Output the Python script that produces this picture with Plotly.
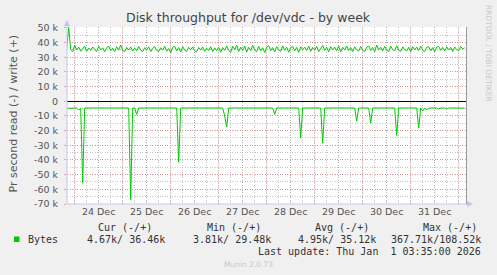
import pandas as pd
import plotly.graph_objects as go

# ---------------- data (hourly samples) ----------------
start_time = "2025-12-23 20:00"
n_points = 200

write_bytes = [
    36300, 50300, 35200, 33800, 38200, 35000, 36900, 34100, 35800, 37600, 34000, 36300, 34700, 37000, 35200, 33900, 37300, 35000, 36400, 33800,
    36600, 37500, 34500, 36200, 33900, 37100, 34800, 38400, 34600, 33800, 36700, 34900, 37000, 34200, 36300, 34400, 37300, 34800, 33700, 36500,
    35000, 37000, 33900, 36100, 37200, 34600, 33900, 36500, 34800, 37400, 34100, 35900, 33000, 36700, 37500, 34300, 36600, 33600, 37200, 34800,
    33900, 36800, 35000, 37100, 34300, 33700, 36600, 34900, 37000, 34000, 36200, 34500, 37200, 33800, 36400, 34400, 36700, 33400, 36600, 34700,
    37800, 34600, 33300, 37500, 35000, 38200, 33900, 36900, 34700, 37600, 33500, 36800, 34500, 38000, 34900, 33700, 37400, 34400, 36500, 33200,
    36800, 37900, 34500, 36600, 33600, 37200, 34900, 33900, 37700, 34700, 36800, 33400, 36600, 37300, 34300, 36700, 33300, 37100, 35000, 36900,
    34700, 37600, 33900, 36700, 34900, 37400, 33800, 36400, 38000, 34600, 36800, 33700, 37200, 35000, 36900, 34300, 37500, 33600, 36800, 34900,
    37700, 34600, 36600, 33800, 37100, 35100, 34200, 37300, 34800, 33700, 36900, 37500, 34600, 36700, 33900, 38300, 35000, 36800, 34300, 37400,
    34800, 33800, 37600, 35100, 34500, 37800, 34900, 33900, 37100, 35200, 34300, 36800, 33700, 37300, 35000, 36900, 34500, 37500, 34800, 33900,
    36800, 37200, 34300, 36600, 33800, 36900, 37400, 34700, 36700, 34300, 37100, 34900, 36800, 33900, 37000, 35200, 34500, 37300, 35600, 36460,
]

read_bytes = [
    -4800, -4700, -4700, -4600, -4600, -4600, -6000, -4600, -55800, -4600, -4600, -4600, -4600, -4600, -4600, -4600, -4600, -4600, -4600, -4600,
    -4600, -4600, -4600, -4600, -4600, -4600, -4600, -4600, -4600, -4600, -4600, -4600, -67000, -4600, -4600, -9000, -4600, -4600, -4600, -4600,
    -4600, -4600, -4600, -4600, -4600, -4600, -4600, -4600, -4600, -4600, -4600, -4600, -4600, -4600, -4600, -4600, -41600, -4600, -4600, -4600,
    -4600, -4600, -4600, -4600, -4600, -4600, -4600, -4600, -4600, -4600, -4600, -4600, -4600, -4600, -4600, -4600, -4600, -4600, -4600, -10000,
    -17600, -4600, -4600, -4600, -4600, -4600, -4600, -4600, -4600, -4600, -4600, -4600, -4600, -4600, -4600, -4600, -4600, -4600, -4600, -4600,
    -4600, -4600, -4600, -4600, -9000, -4600, -4600, -4600, -4600, -4600, -4600, -4600, -4600, -4600, -4600, -4600, -4600, -25000, -4600, -4600,
    -4600, -4600, -4600, -4600, -4600, -4600, -4600, -4600, -28600, -4600, -4600, -4600, -4600, -4600, -4600, -4600, -4600, -4600, -4600, -4600,
    -4600, -4600, -4600, -4600, -4600, -13500, -4600, -4600, -4600, -4600, -4600, -4600, -15000, -4600, -4600, -4600, -4600, -4600, -4600, -4600,
    -4600, -4600, -4600, -4600, -4600, -23300, -4600, -4600, -4600, -4600, -4600, -4600, -4600, -4600, -4600, -4600, -18300, -4600, -6600, -4600,
    -6000, -4600, -4600, -4600, -4600, -4600, -5200, -4600, -4600, -4600, -5200, -4600, -4600, -4600, -4600, -4600, -4600, -4600, -4600, -4670,
]

day_labels = ["24 Dec", "25 Dec", "26 Dec", "27 Dec", "28 Dec", "29 Dec", "30 Dec", "31 Dec"]
day_noons = ["2025-12-24 12:00", "2025-12-25 12:00", "2025-12-26 12:00", "2025-12-27 12:00",
             "2025-12-28 12:00", "2025-12-29 12:00", "2025-12-30 12:00", "2025-12-31 12:00"]
midnights = ["2025-12-24", "2025-12-25", "2025-12-26", "2025-12-27", "2025-12-28",
             "2025-12-29", "2025-12-30", "2025-12-31", "2026-01-01"]
x_range = ["2025-12-23 20:09", "2026-01-01 03:39"]

y_tick_vals = [-70000, -60000, -50000, -40000, -30000, -20000, -10000, 0, 10000, 20000, 30000, 40000, 50000]
y_tick_text = ["-70 k", "-60 k", "-50 k", "-40 k", "-30 k", "-20 k", "-10 k", "0", "10 k", "20 k", "30 k", "40 k", "50 k"]
y_range = [-70000, 50600]

legend_name = "Bytes"
col_headers = ["Cur (-/+)", "Min (-/+)", "Avg (-/+)", "Max (-/+)"]
col_values = ["4.67k/ 36.46k", "3.81k/ 29.48k", "4.95k/ 35.12k", "367.71k/108.52k"]
last_update = "Last update: Thu Jan\u00a0\u00a01 03:35:00 2026"

title_text = "Disk throughput for /dev/vdc - by week"
y_title = "Pr second read (-) / write (+)"

# ---------------- figure ----------------
times = pd.date_range(start_time, periods=n_points, freq="h")
GREEN = "#00CC00"
RED_GRID = "rgba(230,110,110,0.6)"
GRAY_GRID = "rgba(160,160,160,0.6)"
DOT = "1px,1.5px"

fig = go.Figure()
fig.add_trace(go.Scatter(x=times, y=write_bytes, mode="lines",
                         line=dict(color=GREEN, width=1), hoverinfo="skip", showlegend=False))
fig.add_trace(go.Scatter(x=times, y=read_bytes, mode="lines",
                         line=dict(color=GREEN, width=1), hoverinfo="skip", showlegend=False))

L, R, T, B = 67, 466, 27, 204
W, H = R - L, B - T


def px(x):
    return (x - L) / W


def py(y):
    return (B - y) / H


shapes = []
for m in midnights:
    shapes.append(dict(type="line", xref="x", yref="paper", x0=m, x1=m, y0=0, y1=1,
                       line=dict(color=RED_GRID, width=1, dash=DOT), layer="below"))
AX = "#C4C4F2"
shapes += [
    dict(type="line", xref="paper", yref="paper", x0=0, x1=0, y0=0, y1=py(25),
         line=dict(color=AX, width=1)),
    dict(type="path", xref="paper", yref="paper",
         path=f"M {px(67)},{py(20)} L {px(64)},{py(26)} L {px(70)},{py(26)} Z",
         fillcolor=AX, line=dict(color=AX, width=0)),
    dict(type="line", xref="paper", yref="paper", x0=0, x1=px(468), y0=0, y1=0,
         line=dict(color=AX, width=1)),
    dict(type="path", xref="paper", yref="paper",
         path=f"M {px(473)},{py(204)} L {px(467)},{py(201)} L {px(467)},{py(207)} Z",
         fillcolor=AX, line=dict(color=AX, width=0)),
    dict(type="line", xref="paper", yref="paper", x0=px(466.5), x1=px(466.5), y0=0, y1=1,
         line=dict(color="#999999", width=1)),
]

MONO = "DejaVu Sans Mono"
TXT = "#333333"
ann = []
shapes.append(dict(type="rect", xref="paper", yref="paper", x0=px(14), x1=px(19.5), y0=py(242), y1=py(236.5),
                   fillcolor=GREEN, line=dict(width=0)))
ann.append(dict(text=legend_name, x=px(26), y=py(239.5), xanchor="left", yanchor="middle"))
for h, cx in zip(col_headers, [125, 233.5, 341.5, 449.5]):
    ann.append(dict(text=h, x=px(cx), y=py(227.7), xanchor="center", yanchor="middle"))
for v, rx in zip(col_values, [167, 273, 378, 483]):
    ann.append(dict(text=v, x=px(rx), y=py(239.5), xanchor="right", yanchor="middle"))
ann.append(dict(text=last_update, x=px(483), y=py(251.7), xanchor="right", yanchor="middle"))
for a in ann:
    a.update(xref="paper", yref="paper", showarrow=False, font=dict(family=MONO, size=10, color=TXT))

ann.append(dict(text="Munin 2.0.73", x=px(248), y=py(264), xref="paper", yref="paper", showarrow=False,
                xanchor="center", yanchor="middle", font=dict(family="DejaVu Sans", size=7.5, color="#C8C8C8")))
ann.append(dict(text="RRDTOOL / TOBI OETIKER", x=px(489), y=py(53), xref="paper", yref="paper", showarrow=False,
                textangle=90, xanchor="center", yanchor="middle",
                font=dict(family="DejaVu Sans", size=7.5, color="#C8C8C8")))
ann.append(dict(text=title_text, x=px(248.5), y=py(18), xref="paper", yref="paper", showarrow=False,
                xanchor="center", yanchor="middle", font=dict(family="DejaVu Sans", size=12.5, color="#444444")))
ann.append(dict(text=y_title, x=px(12.5), y=py(114), xref="paper", yref="paper", showarrow=False,
                textangle=-90, xanchor="center", yanchor="middle",
                font=dict(family="DejaVu Sans", size=11, color="#555555")))

fig.update_layout(
    width=497, height=275,
    margin=dict(l=L, r=497 - R, t=T, b=275 - B, pad=0),
    paper_bgcolor="#F0F0F0", plot_bgcolor="#FFFFFF",
    shapes=shapes, annotations=ann, showlegend=False,
    xaxis=dict(
        type="date", range=x_range, tickmode="array", tickvals=day_noons, ticktext=day_labels,
        showgrid=True, gridcolor=GRAY_GRID, griddash=DOT, gridwidth=1,
        ticks="", showline=False, zeroline=False,
        tickfont=dict(family="DejaVu Sans", size=9.5, color="#555555"),
        minor=dict(dtick=6 * 3600 * 1000, tick0="2025-12-24", showgrid=True,
                   gridcolor=GRAY_GRID, griddash=DOT, gridwidth=1, ticks=""),
    ),
    yaxis=dict(
        range=y_range, tickmode="array", tickvals=y_tick_vals, ticktext=y_tick_text,
        showgrid=True, gridcolor=RED_GRID, griddash=DOT, gridwidth=1,
        zeroline=True, zerolinecolor="#000000", zerolinewidth=1,
        ticks="outside", ticklen=2, tickcolor="rgba(225,110,110,0.6)", ticklabelstandoff=4,
        showline=False,
        tickfont=dict(family="DejaVu Sans", size=9.5, color="#555555"),
        minor=dict(dtick=5000, tick0=0, showgrid=True, gridcolor=GRAY_GRID, griddash=DOT, gridwidth=1),
    ),
)

fig.write_html("out.html")
